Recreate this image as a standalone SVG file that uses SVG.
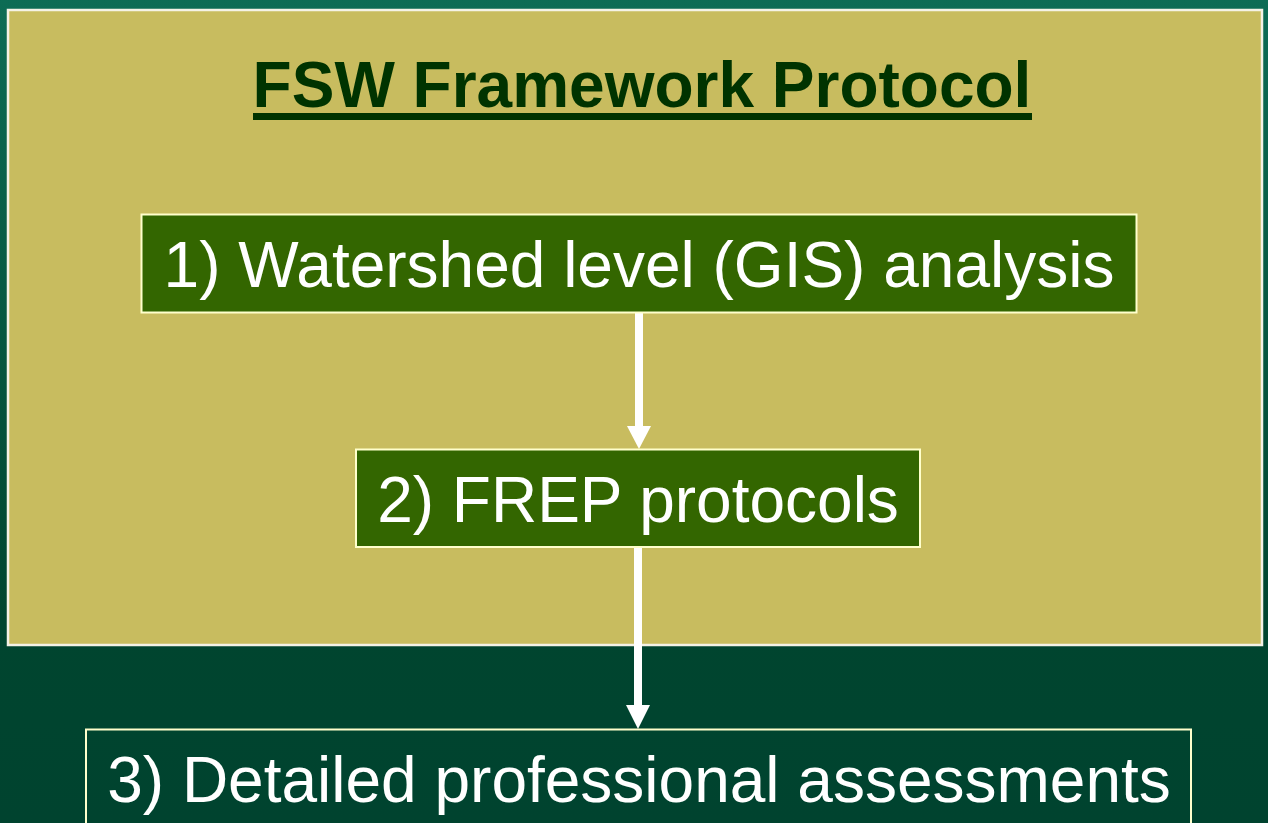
<svg xmlns="http://www.w3.org/2000/svg" width="1268" height="823" viewBox="0 0 1268 823">
<defs>
<linearGradient id="bg" x1="0" y1="0" x2="0" y2="1">
<stop offset="0" stop-color="#0d6c55"/>
<stop offset="0.75" stop-color="#00452f"/>
<stop offset="1" stop-color="#00432f"/>
</linearGradient>
</defs>
<style>
.frame{fill:#c8bc5f;stroke:#f4f2e6;stroke-width:2.5}
.box{fill:#336600;stroke:#ffffcc;stroke-width:2}
.box3{fill:none;stroke:#ffffcc;stroke-width:2}
.lbl{font-family:"Liberation Sans",Arial,sans-serif;font-size:64px;fill:#ffffff;text-anchor:middle}
.title{font-family:"Liberation Sans",Arial,sans-serif;font-size:64px;font-weight:bold;fill:#003300;text-anchor:middle}
.conn line{stroke:#ffffff;stroke-width:8}
.conn polygon{fill:#ffffff}
</style>
<rect x="0" y="0" width="1268" height="823" fill="url(#bg)"/>
<g id="frame">
<rect class="frame" x="8" y="10" width="1254" height="635"/>
<text class="title" x="642" y="107">FSW Framework Protocol</text>
<rect x="253" y="113" width="779" height="7" fill="#003300"/>
</g>
<g id="connectors" class="conn">
<line x1="639" y1="313" x2="639" y2="428"/>
<polygon points="627,426 651,426 639,449"/>
<line x1="638" y1="547" x2="638" y2="707"/>
<polygon points="626,705 650,705 638,729"/>
</g>
<g id="node1">
<rect class="box" x="141.5" y="214.5" width="995" height="98"/>
<text class="lbl" x="639" y="287">1) Watershed level (GIS) analysis</text>
</g>
<g id="node2">
<rect class="box" x="356" y="449.5" width="564" height="97.5"/>
<text class="lbl" x="638" y="522">2) FREP protocols</text>
</g>
<g id="node3">
<rect class="box3" x="86" y="729.5" width="1105" height="110"/>
<text class="lbl" x="639" y="802">3) Detailed professional assessments</text>
</g>
</svg>
